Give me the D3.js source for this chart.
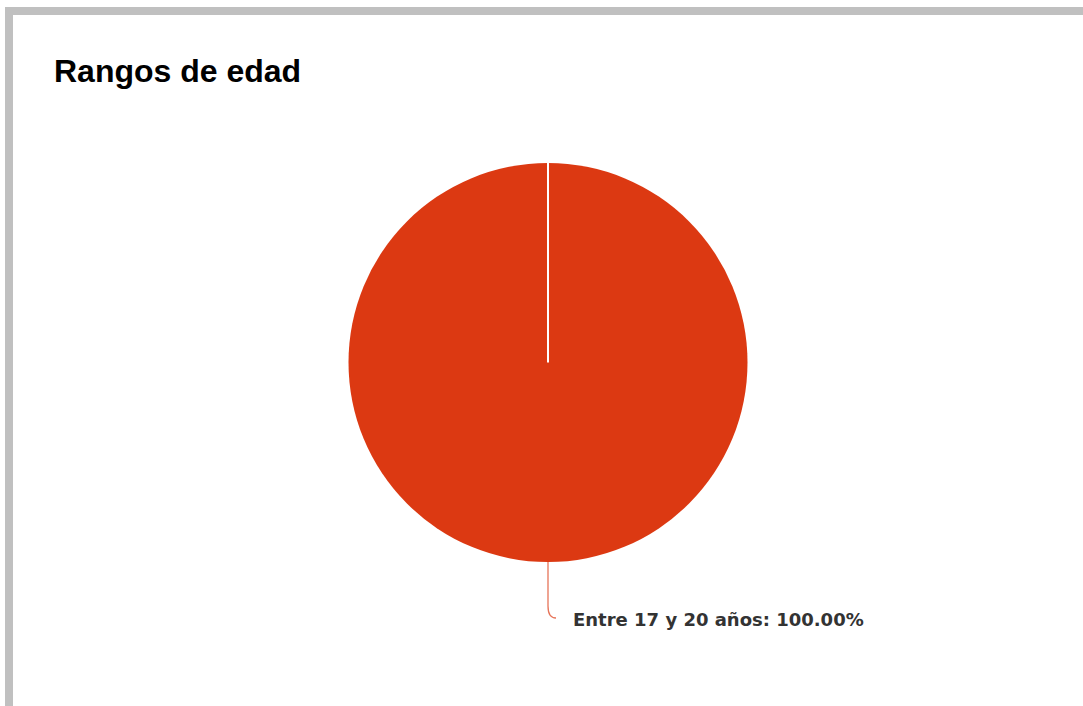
<!DOCTYPE html>
<html>
<head>
<meta charset="utf-8">
<script src="https://cdn.jsdelivr.net/npm/d3@7/dist/d3.min.js"></script>
<style>
  html, body { margin: 0; padding: 0; background: #fff; }
  svg { display: block; }
</style>
</head>
<body>
<svg id="chart" width="1083" height="706"></svg>
<script>
const title = "Rangos de edad";
const categories = ["Entre 17 y 20 años"];
const values = [100];
const colors = ["#dc3912"];

const W = 1083, H = 706;
const svg = d3.select("#chart");

// panel border (left + top)
svg.append("rect").attr("x", 5).attr("y", 7).attr("width", W).attr("height", 8).attr("fill", "#c0c0c0");
svg.append("rect").attr("x", 5).attr("y", 7).attr("width", 8).attr("height", H).attr("fill", "#c0c0c0");

svg.append("text")
  .attr("x", 54).attr("y", 82)
  .attr("font-family", "Liberation Sans, Arial, sans-serif")
  .attr("font-weight", "bold")
  .attr("font-size", 32)
  .attr("fill", "#000")
  .text(title);

const cx = 548, cy = 362.5, r = 199.5;
const g = svg.append("g").attr("transform", `translate(${cx},${cy})`);

const data = categories.map((c, i) => ({ name: c, value: values[i], color: colors[i] }));
const total = d3.sum(data, d => d.value);
const pie = d3.pie().value(d => d.value).sort(null);
const arcs = pie(data);
const arc = d3.arc().innerRadius(0).outerRadius(r);

g.selectAll("path.slice").data(arcs).enter().append("path")
  .attr("class", "slice")
  .attr("d", arc)
  .attr("fill", d => d.data.color);

// slice borders (radial edges)
g.selectAll("line.edge").data(arcs).enter().append("line")
  .attr("class", "edge")
  .attr("x1", 0).attr("y1", 0)
  .attr("x2", d => r * Math.sin(d.startAngle))
  .attr("y2", d => -r * Math.cos(d.startAngle))
  .attr("stroke", "#fff").attr("stroke-width", 2);

// labels with connectors
arcs.forEach(d => {
  const mid = (d.startAngle + d.endAngle) / 2;
  const px = r * Math.sin(mid), py = -r * Math.cos(mid);
  const p = d3.path();
  p.moveTo(px, py);
  p.lineTo(px, py + 44);
  p.quadraticCurveTo(px, py + 56, px + 8, py + 56);
  g.append("path").attr("d", p.toString())
    .attr("fill", "none")
    .attr("stroke", d.data.color)
    .attr("stroke-opacity", 0.7)
    .attr("stroke-width", 1.3);
  g.append("text")
    .attr("x", px + 25).attr("y", py + 64)
    .attr("font-family", "DejaVu Sans, sans-serif")
    .attr("font-weight", "bold")
    .attr("font-size", 18)
    .attr("fill", "#333")
    .text(`${d.data.name}: ${(d.data.value / total * 100).toFixed(2)}%`);
});
</script>
</body>
</html>
